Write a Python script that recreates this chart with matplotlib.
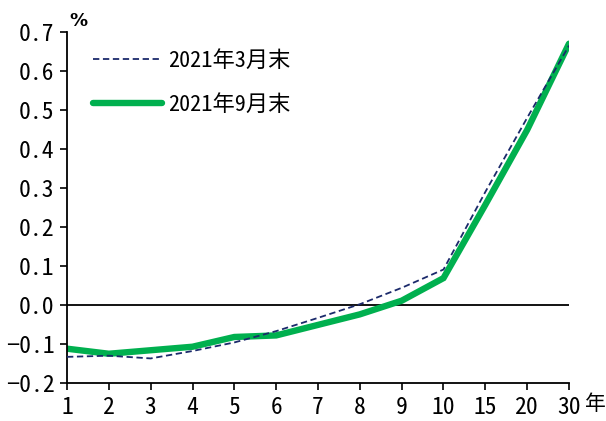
import matplotlib
matplotlib.use("Agg")
import matplotlib.pyplot as plt
from matplotlib.transforms import offset_copy

plt.rcParams['font.family'] = ['Noto Sans Mono CJK JP', 'Noto Sans CJK JP', 'DejaVu Sans']

maturities = ["1", "2", "3", "4", "5", "6", "7", "8", "9", "10", "15", "20", "30"]
mar_2021 = [-0.133, -0.130, -0.137, -0.118, -0.096, -0.067, -0.033, 0.002, 0.044, 0.091, 0.290, 0.480, 0.665]
sep_2021 = [-0.112, -0.125, -0.116, -0.107, -0.082, -0.078, -0.051, -0.024, 0.011, 0.069, 0.257, 0.449, 0.670]
series_labels = ["2021年3月末", "2021年9月末"]
y_ticks = [-0.2, -0.1, 0.0, 0.1, 0.2, 0.3, 0.4, 0.5, 0.6, 0.7]

fig = plt.figure(figsize=(6.06, 4.21), dpi=100)
ax = fig.add_axes([67/606, 38/421, 502/606, 351/421])

x = list(range(len(maturities)))
ax.axhline(0, color="black", lw=1.3, zorder=1)
ax.plot(x, mar_2021, color="#1b2a6b", lw=1.3, ls=(0, (3.5, 2)), label=series_labels[0], zorder=3)
ax.plot(x, sep_2021, color="#00b04f", lw=4.6, solid_capstyle="round",
        solid_joinstyle="miter", label=series_labels[1], zorder=2)

ax.set_xlim(0, len(maturities) - 1)
ax.set_ylim(-0.2, 0.7)
ax.set_xticks(x)
ax.set_xticklabels(maturities)
ax.set_yticks(y_ticks)
ax.set_yticklabels([f"{v:.1f}".replace("-", "\u2212") for v in y_ticks])

for side in ("top", "right"):
    ax.spines[side].set_visible(False)
for side in ("left", "bottom"):
    ax.spines[side].set_linewidth(1.3)
    ax.spines[side].set_color("black")
ax.tick_params(axis="both", direction="out", length=5, width=1.2, labelsize=17, colors="black")
ax.tick_params(axis="x", pad=4.5)
ax.tick_params(axis="y", pad=4)

ax.text(0.005, 1.005, "%", transform=ax.transAxes, fontsize=13, ha="left", va="bottom",
        fontweight="bold", family=["DejaVu Sans"])
year_tf = offset_copy(ax.get_xaxis_transform(), fig=fig, x=16, y=-10, units="dots")
ax.text(len(maturities) - 1, 0, "年", transform=year_tf, fontsize=15, ha="left", va="top")

leg = ax.legend(loc="upper left", bbox_to_anchor=(0.035, 0.975),
                frameon=False, fontsize=16, handlelength=3.1, labelspacing=1.0,
                handletextpad=0.25, borderaxespad=0)

fig.savefig("out.png", dpi=100)
